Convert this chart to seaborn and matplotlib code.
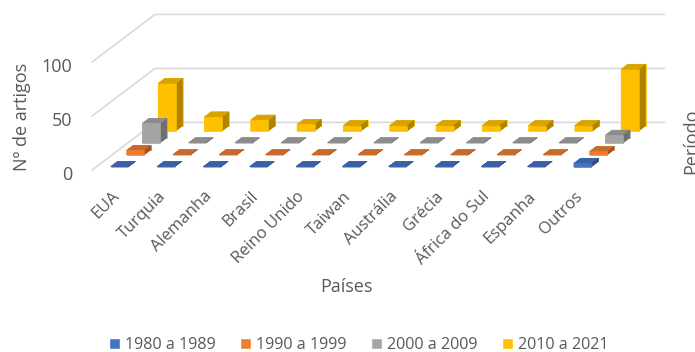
import numpy as np
import matplotlib
matplotlib.use("Agg")
import matplotlib.pyplot as plt
from matplotlib.lines import Line2D
from matplotlib.patches import Patch
import seaborn as sns

paises = ["EUA", "Turquia", "Alemanha", "Brasil", "Reino Unido", "Taiwan",
          "Austrália", "Grécia", "África do Sul", "Espanha", "Outros"]
periodos = ["1980 a 1989", "1990 a 1999", "2000 a 2009", "2010 a 2021"]
artigos_1980 = [0, 0, 0, 0, 0, 0, 0, 0, 0, 0, 3]
artigos_1990 = [4, 0, 0, 0, 0, 0, 0, 0, 0, 0, 3]
artigos_2000 = [18, 0, 0, 0, 0, 0, 0, 0, 0, 0, 7]
artigos_2010 = [44, 13, 10, 6, 5, 5, 5, 5, 5, 5, 57]
y_ticks = [0, 50, 100]

sns.set_theme(style="white")
plt.rcParams["font.family"] = ["Open Sans", "DejaVu Sans"]
cores = sns.color_palette(["#4472C4", "#ED7D31", "#A5A5A5", "#FFC000"])
texto = "#595959"
grade = "#D9D9D9"

W, H = 695, 352
# Excel-like oblique 3D view, in pixels
x0, y0 = 115.2, 170    # first category, front edge of the floor
sx, sz = 46.3, 1.08    # px per category, px per article
dx, dy = 15.75, 11.9   # px per period slot (depth runs up and right)


def to_px(X, Y, Z):
    return x0 + sx * X + dx * Y, y0 - sz * Z - dy * Y


fig = plt.figure(figsize=(W / 100, H / 100), dpi=100)
ax = fig.add_axes([0, 0, 1, 1], projection="3d")
ax.patch.set_visible(False)
get_proj_orig = ax.get_proj


def oblique_proj():
    get_proj_orig()
    A = ax.transData.inverted().get_matrix()
    D = np.array([[sx, dx, 0, x0],
                  [0, dy, sz, H - y0],
                  [0, 0, 0, 1]])
    M = np.zeros((4, 4))
    M[:2] = (A @ D)[:2]
    # depth used for sorting faces, bigger = further away
    M[2] = [-0.3 * sx, 40, -0.5 * sz, 0]
    M[3, 3] = 1
    return M


ax.get_proj = oblique_proj
ax.apply_aspect = lambda position=None: None
ax.set_axis_off()

# gridlines on the side and back walls (behind the 3d axes)
n = len(paises)
for v in y_ticks:
    pts = [to_px(-0.5, 0, v), to_px(-0.5, 4, v), to_px(n - 0.5, 4, v)]
    fig.add_artist(Line2D([p[0] / W for p in pts], [1 - p[1] / H for p in pts],
                          transform=fig.transFigure, color=grade, lw=1.2,
                          zorder=-1))

# bars
series = [artigos_1980, artigos_1990, artigos_2000, artigos_2010]
largura, prof = 0.38, 0.43
bx, by, bz, faces = [], [], [], []
for k, valores in enumerate(series):
    c = np.array(cores[k])
    topo = c * 0.85
    lado = c * 0.68
    for i, v in enumerate(valores):
        bx.append(i - largura / 2)
        by.append(k + 0.5 - prof / 2)
        bz.append(v)
        # -z, +z, -y, +y, -x, +x
        faces += [topo, topo, c, c, c, lado]

ax.bar3d(bx, by, np.zeros(len(bx)), largura, prof, bz,
         color=faces, edgecolor=faces, linewidth=0.4, shade=False)

# y tick labels
for v in y_ticks:
    px, py = to_px(-0.5, 0, v)
    fig.text((px - 20) / W, 1 - (py + 4.5) / H, str(v), ha="right",
             va="center", fontsize=13, color=texto)

# country labels
for i, nome in enumerate(paises):
    px, py = to_px(i, 0, 0)
    fig.text((px + 2) / W, 1 - (py + 24) / H, nome, rotation=45,
             rotation_mode="anchor", ha="right", va="center",
             fontsize=12, color=texto)

fig.text(22 / W, 1 - 117 / H, "Nº de artigos", rotation=90,
         ha="center", va="center", fontsize=13, color=texto)
fig.text(346 / W, 1 - 287 / H, "Países", ha="center", va="center",
         fontsize=13, color=texto)
fig.text(682 / W, 1 - 141 / H, "Período", rotation=90,
         ha="left", va="center", fontsize=13, color=texto)

handles = [Patch(facecolor=c, label=p) for c, p in zip(cores, periodos)]
fig.legend(handles=handles, loc="lower center", bbox_to_anchor=(0.516, -0.045),
           ncol=4, frameon=False, fontsize=11.6, handlelength=0.7,
           handleheight=0.7, handletextpad=0.3, columnspacing=1.5,
           labelcolor=texto)

fig.savefig("out.png", dpi=100)
